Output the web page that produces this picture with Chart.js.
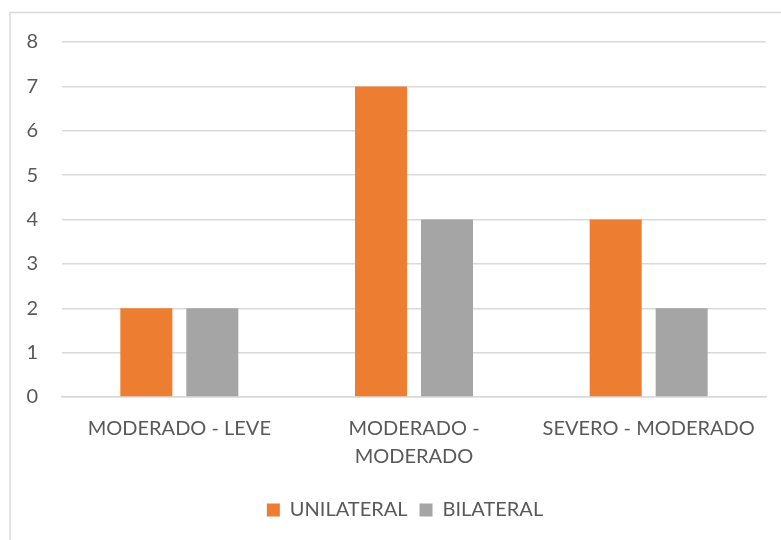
<!DOCTYPE html>
<html><head><meta charset="utf-8">
<script src="https://cdn.jsdelivr.net/npm/chart.js@4/dist/chart.umd.min.js"></script>
<style>html,body{margin:0;padding:0;background:#fff;}#wrap{position:relative;width:781px;height:540px;}</style>
</head><body><div id="wrap"><canvas id="c" width="781" height="540"></canvas></div>
<script>
const categories = [["MODERADO - LEVE"], ["MODERADO -", "MODERADO"], ["SEVERO - MODERADO"]];
const unilateral = [2, 7, 4];
const bilateral = [2, 4, 2];
const yTicks = [0, 1, 2, 3, 4, 5, 6, 7, 8];

const FONT = "Lato, 'Open Sans', sans-serif";
const TXT = '#595959';

const frame = {
  id: 'frame',
  beforeDraw(chart) {
    const ctx = chart.ctx;
    ctx.save();
    ctx.fillStyle = '#fff';
    ctx.fillRect(0, 0, chart.width, chart.height);
    ctx.strokeStyle = '#d9d9d9';
    ctx.lineWidth = 1.5;
    ctx.strokeRect(10, 12.5, 790, 560);
    ctx.restore();
  },
  afterLayout(chart) {
    const lg = chart.legend;
    if (lg) { lg.left += 17; lg.right += 17; }
  }
};

new Chart(document.getElementById('c'), {
  type: 'bar',
  data: {
    labels: categories,
    datasets: [
      { label: 'UNILATERAL', data: unilateral, backgroundColor: '#ED7D31', categoryPercentage: 0.5625, barPercentage: 0.788 },
      { label: 'BILATERAL', data: bilateral, backgroundColor: '#A5A5A5', categoryPercentage: 0.5625, barPercentage: 0.788 }
    ]
  },
  options: {
    responsive: false,
    animation: false,
    layout: { padding: { left: 10, right: 15, top: 42, bottom: 10 } },
    plugins: {
      legend: {
        position: 'bottom',
        labels: { font: { family: FONT, size: 20 }, color: TXT, boxWidth: 13, boxHeight: 13, padding: 12 }
      },
      tooltip: { enabled: false }
    },
    scales: {
      x: {
        afterFit(s) { s.height = 91; },
        grid: { display: false, drawTicks: false },
        border: { display: true, color: '#d9d9d9', width: 1.5 },
        ticks: { font: { family: FONT, size: 20, lineHeight: 1.4 }, color: TXT, padding: 18, maxRotation: 0, autoSkip: false }
      },
      y: {
        min: 0, max: 8,
        afterBuildTicks(s) { s.ticks = yTicks.map(v => ({ value: v })); },
        afterFit(s) { s.width = 52; },
        grid: { color: '#d9d9d9', lineWidth: 1.5, drawTicks: false },
        border: { display: false },
        ticks: { font: { family: FONT, size: 20 }, color: TXT, padding: 24 }
      }
    }
  },
  plugins: [frame]
});
</script></body></html>
